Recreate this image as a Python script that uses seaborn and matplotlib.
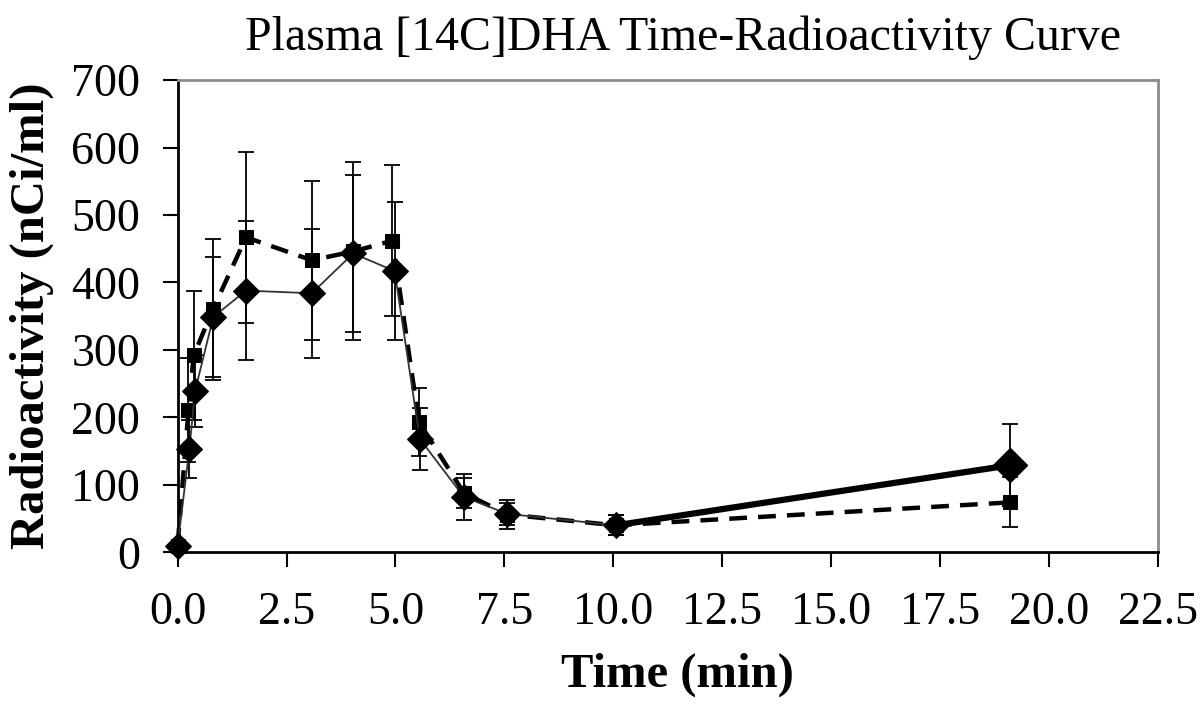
import matplotlib
matplotlib.use("Agg")
import matplotlib.pyplot as plt
import seaborn as sns
import pandas as pd

# values
time_diamond = [0, 0.27, 0.40, 0.82, 1.57, 3.08, 4.03, 4.98, 5.56, 6.57, 7.57, 10.06, 19.1]
radio_diamond = [10, 153, 239, 349, 388, 384, 443, 417, 168, 82, 57, 40, 129]
err_diamond = [5, 43, 53, 89, 103, 96, 117, 102, 46, 34, 16, 15, 61]

time_square = [0, 0.25, 0.37, 0.81, 1.57, 3.08, 4.03, 4.93, 5.54, 6.57, 7.57, 10.06, 19.1]
radio_square = [10, 211, 292, 360, 467, 433, 446, 462, 193, 88, 56, 40, 74]
err_square = [5, 77, 96, 105, 127, 118, 132, 112, 50, 22, 21, 15, 37]

x_ticks = [0, 2.5, 5, 7.5, 10, 12.5, 15, 17.5, 20, 22.5]
y_ticks = [0, 100, 200, 300, 400, 500, 600, 700]

sns.set_style("ticks")
plt.rcParams["font.family"] = ["Liberation Serif", "DejaVu Serif"]
plt.rcParams["text.color"] = "black"
plt.rcParams["axes.labelcolor"] = "black"
plt.rcParams["xtick.color"] = "black"
plt.rcParams["ytick.color"] = "black"

df_d = pd.DataFrame({"time": time_diamond, "radio": radio_diamond})
df_s = pd.DataFrame({"time": time_square, "radio": radio_square})

fig = plt.figure(figsize=(12, 7.09), dpi=100)
ax = fig.add_axes([0.148, 0.221, 0.817, 0.666])

# error bars first so the markers sit on top
ax.errorbar(time_square, radio_square, yerr=err_square, fmt="none",
            ecolor="black", elinewidth=1.3, capsize=6, capthick=1.3, zorder=2)
ax.errorbar(time_diamond, radio_diamond, yerr=err_diamond, fmt="none",
            ecolor="black", elinewidth=1.3, capsize=6, capthick=1.3, zorder=2)

# dashed series with squares
sns.lineplot(data=df_s, x="time", y="radio", ax=ax, color="black",
             linewidth=3.2, linestyle=(0, (4, 2.5)), marker="s", markersize=10.5,
             markeredgecolor="black", estimator=None, sort=False, zorder=3)

# solid series with diamonds: thin line, last segment heavy
sns.lineplot(data=df_d.iloc[:-1], x="time", y="radio", ax=ax, color="#333333",
             linewidth=1.3, marker="D", markersize=13, markerfacecolor="black",
             markeredgecolor="black", estimator=None, sort=False, zorder=4)
sns.lineplot(data=df_d.iloc[-2:], x="time", y="radio", ax=ax, color="black",
             linewidth=4.5, estimator=None, sort=False, zorder=4)
ax.plot(time_diamond[-1], radio_diamond[-1], marker="D", markersize=17,
        color="black", zorder=5)

# markers at t=0 sit on the axis, keep them whole
for line in ax.lines:
    line.set_clip_on(False)

ax.set_xlim(0, 22.5)
ax.set_ylim(0, 700)
ax.set_xticks(x_ticks)
ax.set_xticklabels([f"{t:.1f}" for t in x_ticks])
ax.set_yticks(y_ticks)
ax.tick_params(axis="both", labelsize=33, length=11, width=1.5, color="black",
               direction="out")
ax.tick_params(axis="y", pad=16)
ax.tick_params(axis="x", pad=17)

for side in ["left", "bottom"]:
    ax.spines[side].set_color("black")
    ax.spines[side].set_linewidth(2)
for side in ["top", "right"]:
    ax.spines[side].set_visible(True)
    ax.spines[side].set_color("#8c8c8c")
    ax.spines[side].set_linewidth(2)

ax.set_xlabel("Time (min)", fontsize=35, fontweight="bold")
ax.xaxis.set_label_coords(0.51, -0.212)
ax.set_ylabel("Radioactivity (nCi/ml)", fontsize=35, fontweight="bold", labelpad=12)
ax.set_title("Plasma [14C]DHA Time-Radioactivity Curve", fontsize=34.5, pad=22, x=0.515)

fig.savefig("out.png", dpi=100)
plt.close(fig)
